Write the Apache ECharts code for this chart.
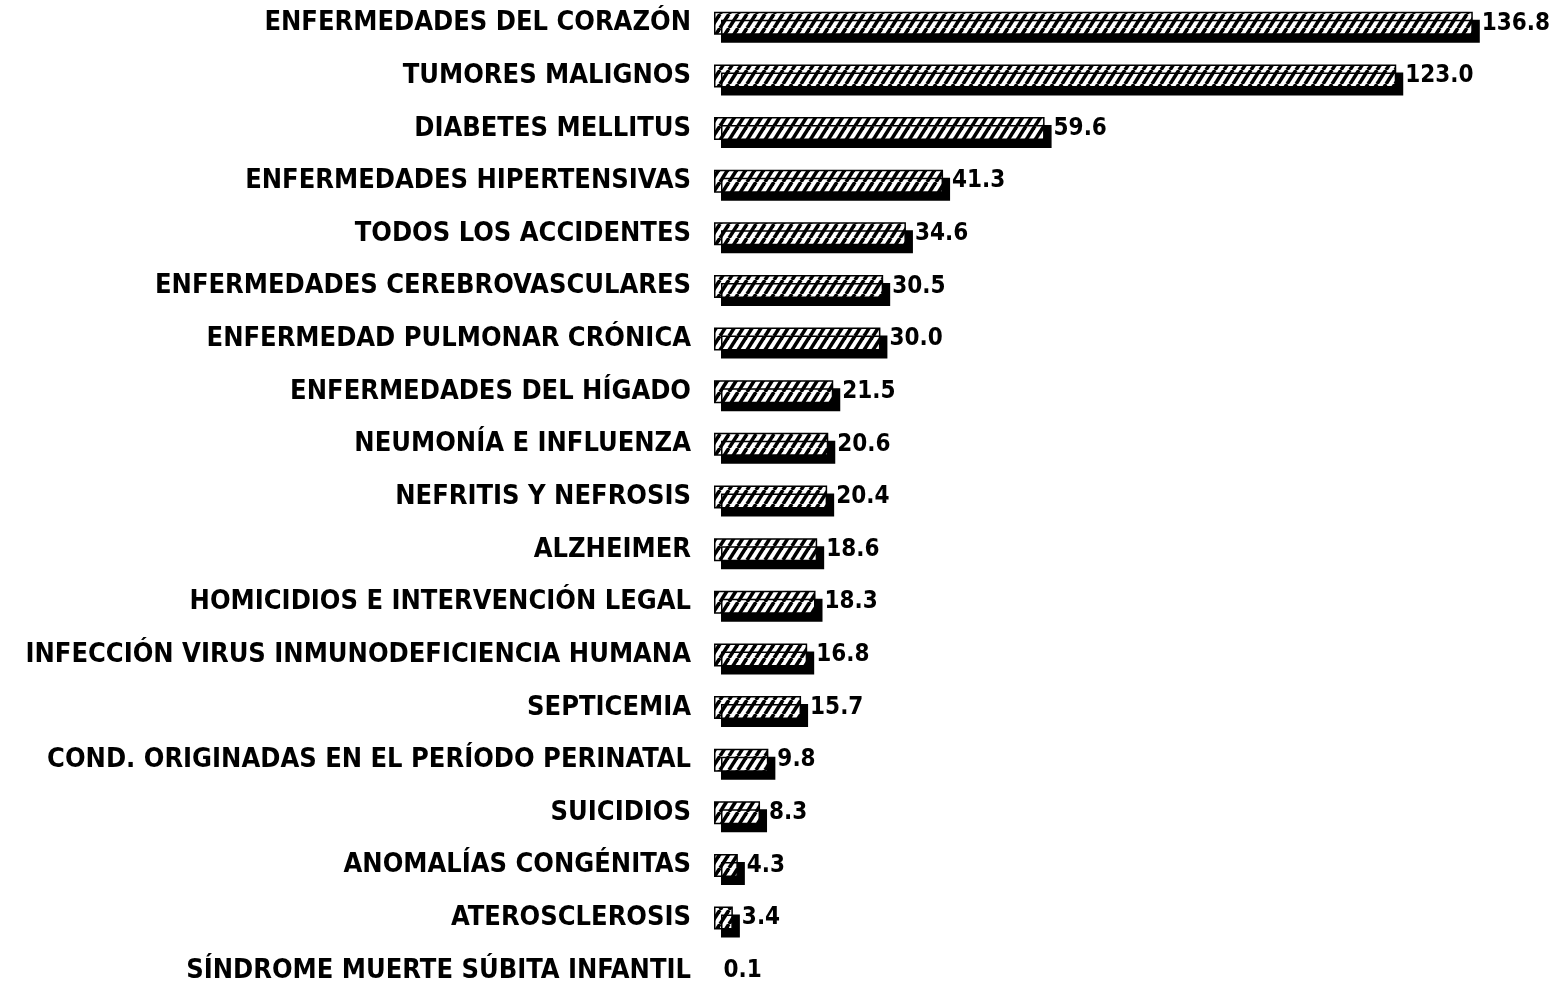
<!DOCTYPE html>
<html><head><meta charset="utf-8">
<script src="https://cdn.jsdelivr.net/npm/echarts@6/dist/echarts.min.js"></script>
<style>html,body{margin:0;padding:0;background:#fff}#c{width:1561px;height:984px}</style>
</head><body><div id="c"></div>
<script>
const categories = [
  "ENFERMEDADES DEL CORAZÓN",
  "TUMORES MALIGNOS",
  "DIABETES MELLITUS",
  "ENFERMEDADES HIPERTENSIVAS",
  "TODOS LOS ACCIDENTES",
  "ENFERMEDADES CEREBROVASCULARES",
  "ENFERMEDAD PULMONAR CRÓNICA",
  "ENFERMEDADES DEL HÍGADO",
  "NEUMONÍA E INFLUENZA",
  "NEFRITIS Y NEFROSIS",
  "ALZHEIMER",
  "HOMICIDIOS E INTERVENCIÓN LEGAL",
  "INFECCIÓN VIRUS INMUNODEFICIENCIA HUMANA",
  "SEPTICEMIA",
  "COND. ORIGINADAS EN EL PERÍODO PERINATAL",
  "SUICIDIOS",
  "ANOMALÍAS CONGÉNITAS",
  "ATEROSCLEROSIS",
  "SÍNDROME MUERTE SÚBITA INFANTIL"
];
const values = [136.8, 123.0, 59.6, 41.3, 34.6, 30.5, 30.0, 21.5, 20.6, 20.4, 18.6, 18.3, 16.8, 15.7, 9.8, 8.3, 4.3, 3.4, 0.1];

const FONT = '"Liberation Sans Narrow", "Arial Narrow", "DejaVu Sans Condensed", sans-serif';

// hatch pattern
const pc = document.createElement('canvas');
const PW = 9, PH = 14;
pc.width = PW; pc.height = PH;
const g = pc.getContext('2d');
g.fillStyle = '#fff'; g.fillRect(0, 0, PW, PH);
g.strokeStyle = '#000'; g.lineWidth = 3.6;
for (let k = -1; k <= 1; k++) {
  g.beginPath();
  g.moveTo(k * PW, PH); g.lineTo(k * PW + PW, 0);
  g.stroke();
}

const data = values.map(v => v < 1 ? {value: v, itemStyle: {borderWidth: 0, shadowOffsetX: 0, shadowOffsetY: 0, opacity: 0}} : v);

const chart = echarts.init(document.getElementById('c'), null, {renderer: 'canvas'});
chart.setOption({
  animation: false,
  backgroundColor: '#fff',
  grid: {left: 714, width: 832, top: -3, height: 1000, containLabel: false, outerBoundsMode: 'none'},
  xAxis: {type: 'value', min: 0, max: 150, show: false},
  yAxis: {
    type: 'category', inverse: true, data: categories,
    axisLine: {show: false}, axisTick: {show: false},
    axisLabel: {color: '#000', fontFamily: FONT, fontWeight: 'bold', fontSize: 27, margin: 23}
  },
  series: [{
    type: 'bar', data: data, barWidth: 23,
    itemStyle: {
      color: {image: pc, repeat: 'repeat'},
      borderColor: '#000', borderWidth: 1.5,
      shadowColor: '#000', shadowBlur: 0, shadowOffsetX: 7, shadowOffsetY: 8
    },
    label: {
      show: true, position: 'right', distance: 9, color: '#000', opacity: 1,
      fontFamily: FONT, fontWeight: 'bold', fontSize: 24,
      formatter: p => p.value.toFixed(1)
    }
  }]
});
</script></body></html>
